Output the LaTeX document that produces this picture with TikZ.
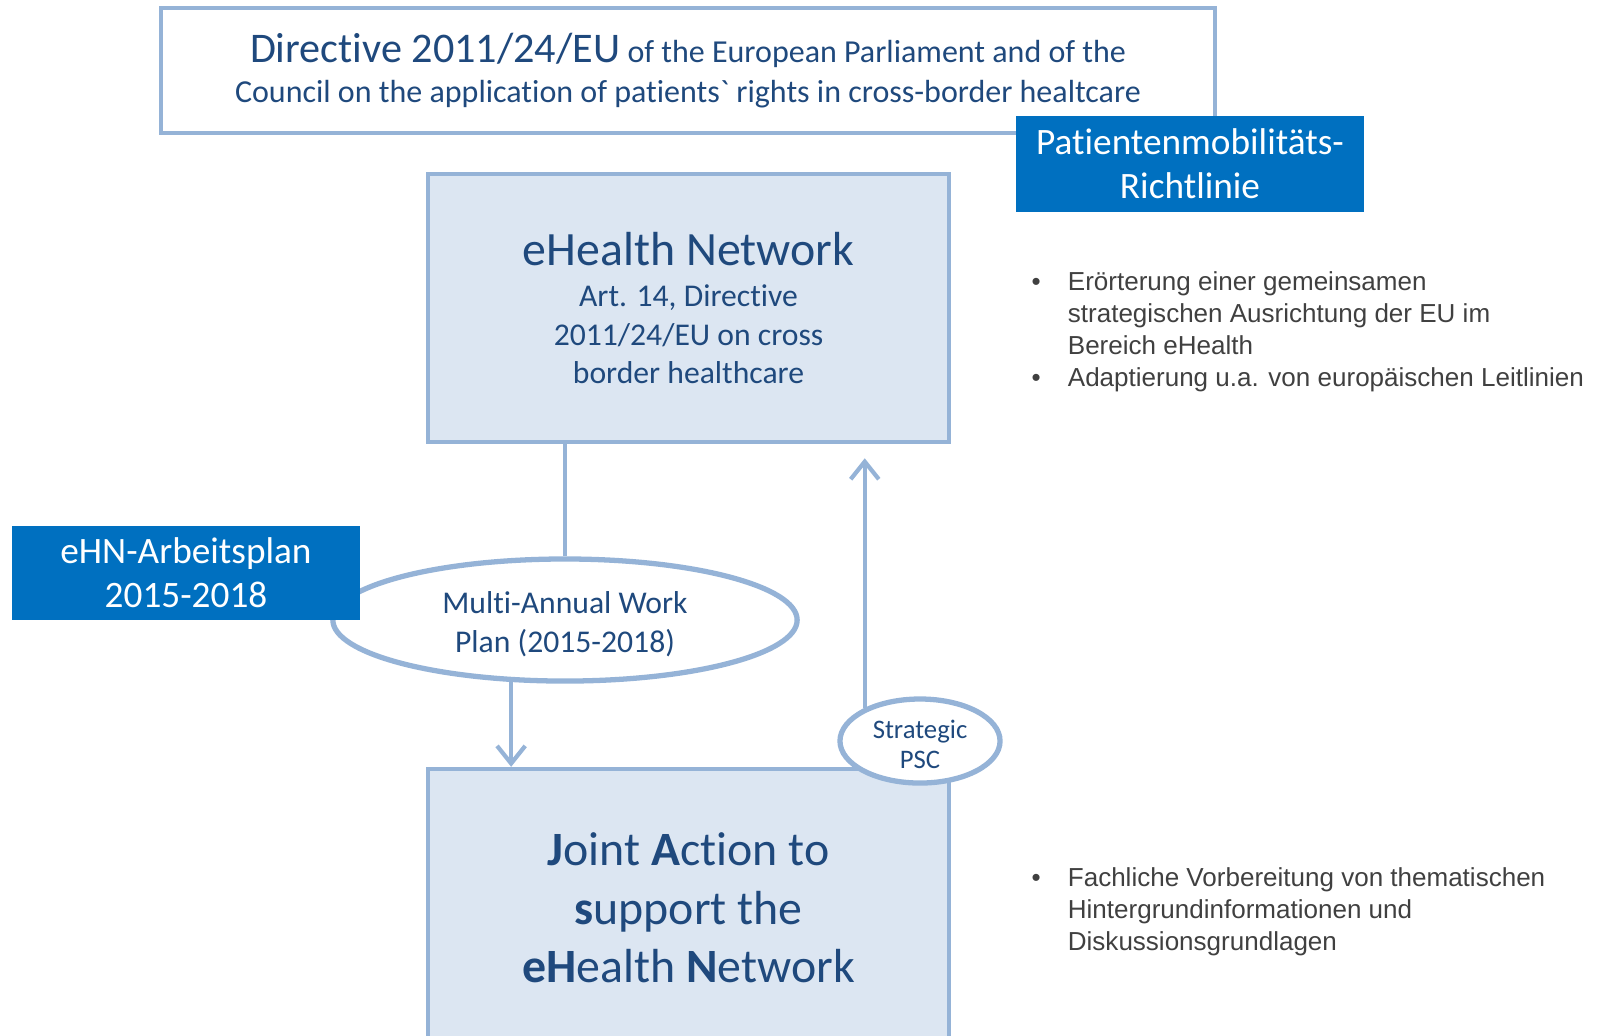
\documentclass[tikz,border=0pt]{standalone}
\usepackage{fontspec}
\setmainfont{Carlito}[Ligatures={TeX,NoCommon}]
\newfontfamily\arialfont{Liberation Sans}
\usetikzlibrary{shapes.geometric,arrows.meta}
\definecolor{lineblue}{HTML}{95B3D7}
\definecolor{boxfill}{HTML}{DCE6F2}
\definecolor{tagblue}{HTML}{0070C0}
\definecolor{darkblue}{HTML}{1F497D}
\definecolor{notegray}{HTML}{404040}
\tikzset{
	frame/.style    = {draw=lineblue, line width=1.2pt, rectangle, fill=white,
		text=darkblue, align=center},
	block/.style    = {frame, fill=boxfill},
	tag/.style      = {rectangle, fill=tagblue, text=white, align=center,
		font=\tagfont},
	oval/.style     = {draw=lineblue, line width=1.5pt, ellipse, fill=white,
		text=darkblue, align=center, inner sep=0pt},
	notes/.style    = {text=notegray, font=\notefont, anchor=base west,
		inner sep=0pt},
	link/.style     = {draw=lineblue, line width=1.2pt}
}
\newcommand{\tagfont}{\fontsize{10.6}{12.5}\selectfont}
\newcommand{\notefont}{\arialfont\fontsize{7.4}{9.1}\selectfont}
\newcommand{\bl}[1]{\textbf{#1}}

\begin{document}
\begin{tikzpicture}[x=0.01cm, y=-0.01cm, >={Straight Barb[length=5pt,width=8pt]}]
	\useasboundingbox (0,0) rectangle (1604,1035);
	\draw
	% directive on top
	node at (688,70.5)[frame, minimum width=10.54cm, minimum height=1.25cm,
		font=\fontsize{9.1}{11.3}\selectfont] (dir)
		{{\fontsize{12}{14}\selectfont Directive 2011/24/EU} of the European Parliament and of the\\
		 Council on the application of patients\textasciigrave{} rights in cross-border healtcare}
	node at (1190,164)[tag, minimum width=3.48cm, minimum height=0.96cm] (pmr)
		{Patientenmobilitäts-\\Richtlinie}
	% the network
	node at (688.5,308)[block, minimum width=5.21cm, minimum height=2.68cm,
		font=\fontsize{9}{10.9}\selectfont] (ehn)
		{{\fontsize{13.6}{16}\selectfont eHealth Network}\\[0.9pt]
		 Art. 14, Directive\\2011/24/EU on cross\\border healthcare}
	% work plan
	node at (565,620)[oval, minimum width=4.64cm, minimum height=1.22cm,
		font=\fontsize{9}{11.1}\selectfont] (map) {\rule{0pt}{8.8pt}Multi-Annual Work\\Plan (2015-2018)}
	node at (186,573)[tag, minimum width=3.48cm, minimum height=0.94cm] (arb)
		{eHN-Arbeitsplan\\2015-2018}
	% joint action
	node at (688.5,908)[block, minimum width=5.21cm, minimum height=2.78cm,
		font=\fontsize{13.6}{16.6}\selectfont] (ja)
		{\bl{J}oint \bl{A}ction to\\\bl{s}upport the\\\bl{e}\bl{H}ealth \bl{N}etwork}
	node at (920,741)[oval, minimum width=1.6cm, minimum height=0.84cm,
		font=\fontsize{7.6}{8.7}\selectfont] (psc) {\rule{0pt}{7.2pt}Strategic\\PSC}
	;
	
	\draw[link](ehn.south -| map.north) -- (map.north);
	\draw[link,->](map.229) -- (map.229 |- ja.north);
	\draw[link,->,shorten >=4pt](psc.149) -- (psc.149 |- ehn.south);
	
	% notes at the right
	\node[notes] (n1) at (1031,290) {\begin{tabular}[t]{@{}l@{\hspace{7.7pt}}l@{}}
		\textbullet & Erörterung einer gemeinsamen\\
		& strategischen Ausrichtung der EU im\\
		& Bereich eHealth\\
		\textbullet & Adaptierung u.a. von europäischen Leitlinien
		\end{tabular}};
	\node[notes] (n2) at (1031,886) {\begin{tabular}[t]{@{}l@{\hspace{7.7pt}}l@{}}
		\textbullet & Fachliche Vorbereitung von thematischen\\
		& Hintergrundinformationen und\\
		& Diskussionsgrundlagen
		\end{tabular}};
\end{tikzpicture}
\end{document}
